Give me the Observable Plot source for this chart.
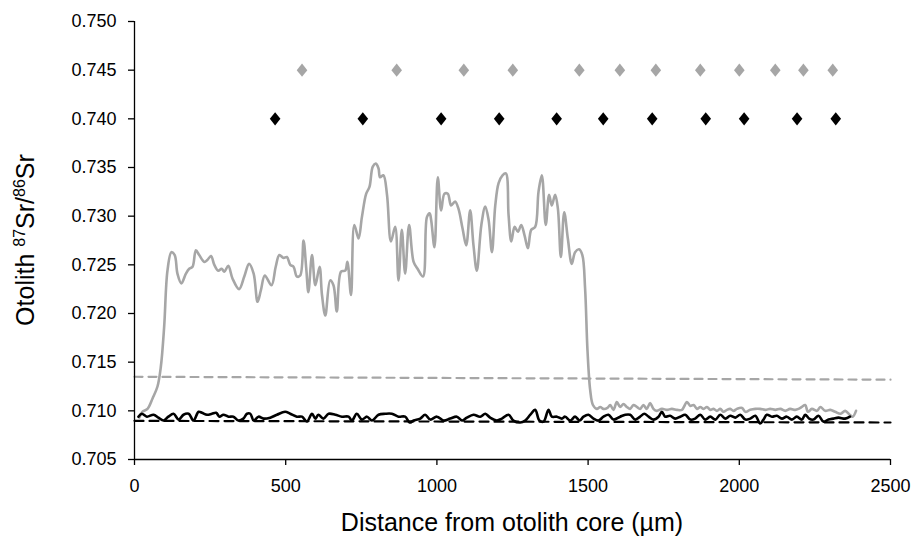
<!DOCTYPE html>
<html><head><meta charset="utf-8">
<script src="https://cdn.jsdelivr.net/npm/d3@7"></script>
<script src="https://cdn.jsdelivr.net/npm/@observablehq/plot@0.6"></script>
<style>body{margin:0;background:#fff;} #chart svg{display:block;}</style>
</head><body><div id="chart"></div>
<script>
// Gray (otolith) Sr profile
const grayX = [16,26,43,60,76,87,98,109,122,133,142,155,170,181,192,203,214,231,241,253,264,277,288,297,310,324,346,363,379,394,407,418,431,453,467,479,493,504,515,526,537,548,559,568,575,587,598,612,620,631,647,658,669,683,697,704,716,727,741,752,766,777,788,798,807,812,823,835,848,862,873,884,895,908,923,936,954,967,976,981,992,1003,1014,1025,1036,1047,1060,1071,1085,1097,1110,1121,1132,1147,1160,1171,1182,1193,1204,1217,1228,1237,1246,1257,1268,1279,1290,1301,1312,1325,1336,1347,1360,1371,1380,1391,1400,1410,1421,1433,1446,1457,1470,1481,1490,1498,1507,1516,1529,1540,1551,1564,1573,1584,1595,1606,1617,1628,1639,1650,1661,1672,1683,1694,1705,1716,1727,1744,1761,1777,1794,1810,1827,1838,1849,1860,1871,1882,1893,1904,1915,1926,1937,1948,1959,1970,1981,1992,2009,2020,2036,2053,2069,2086,2102,2119,2136,2152,2168,2185,2196,2207,2218,2227,2240,2257,2268,2284,2301,2317,2335,2350,2365,2375,2386];
const grayY = [0.7093,0.7099,0.7102,0.7113,0.7125,0.7145,0.7186,0.7244,0.7263,0.7260,0.7241,0.7231,0.7241,0.7246,0.7248,0.7265,0.7260,0.7253,0.7255,0.7259,0.7250,0.7244,0.7246,0.7243,0.7249,0.7236,0.7225,0.7238,0.7251,0.7241,0.7212,0.7224,0.7239,0.7229,0.7248,0.7260,0.7257,0.7258,0.7250,0.7248,0.7238,0.7239,0.7275,0.7246,0.7222,0.7260,0.7229,0.7248,0.7219,0.7198,0.7234,0.7229,0.7202,0.7243,0.7244,0.7253,0.7219,0.7291,0.7277,0.7299,0.7323,0.7330,0.7351,0.7354,0.7349,0.7340,0.7342,0.7322,0.7274,0.7289,0.7234,0.7286,0.7241,0.7291,0.7253,0.7246,0.7238,0.7299,0.7303,0.7296,0.7268,0.7340,0.7306,0.7323,0.7323,0.7311,0.7315,0.7308,0.7287,0.7270,0.7306,0.7270,0.7244,0.7291,0.7310,0.7296,0.7263,0.7311,0.7334,0.7342,0.7344,0.7301,0.7274,0.7289,0.7284,0.7291,0.7280,0.7267,0.7286,0.7289,0.7325,0.7342,0.7291,0.7322,0.7311,0.7322,0.7308,0.7258,0.7304,0.7277,0.7251,0.7263,0.7266,0.7260,0.7226,0.7162,0.7121,0.7106,0.7102,0.7104,0.7102,0.7103,0.7106,0.7101,0.7109,0.7104,0.7107,0.7104,0.7102,0.7106,0.7104,0.7102,0.7106,0.7102,0.7108,0.7102,0.7100,0.7102,0.7101,0.7102,0.7101,0.7101,0.7109,0.7105,0.7106,0.7102,0.7104,0.7102,0.7104,0.7101,0.7102,0.7100,0.7102,0.7099,0.7101,0.7102,0.7100,0.7102,0.7103,0.7099,0.7101,0.7102,0.7102,0.7101,0.7102,0.7101,0.7102,0.7100,0.7102,0.7101,0.7102,0.7104,0.7106,0.7099,0.7102,0.7100,0.7104,0.7100,0.7101,0.7099,0.7097,0.7100,0.7096,0.7094,0.7100];

// Black Sr profile
const blackX = [13,24,41,63,79,96,112,129,146,162,179,195,212,223,240,256,270,281,294,311,327,344,360,372,383,394,410,427,449,471,498,515,537,554,570,587,598,608,625,642,664,686,708,719,735,752,769,785,807,829,851,873,895,910,923,945,961,978,1000,1022,1044,1066,1083,1099,1121,1143,1160,1176,1198,1215,1237,1253,1275,1292,1309,1325,1339,1353,1369,1380,1397,1413,1424,1441,1457,1472,1485,1501,1518,1534,1551,1567,1584,1606,1623,1639,1656,1672,1686,1700,1716,1733,1744,1755,1771,1788,1805,1821,1838,1854,1871,1887,1904,1921,1937,1954,1970,1987,2003,2020,2036,2053,2069,2080,2091,2108,2124,2141,2157,2174,2190,2207,2218,2231,2245,2262,2278,2295,2311,2328,2350,2366];
const blackY = [0.7094,0.7097,0.7094,0.7096,0.7093,0.7090,0.7094,0.7097,0.7091,0.7096,0.7097,0.7090,0.7099,0.7098,0.7096,0.7097,0.7098,0.7094,0.7096,0.7094,0.7094,0.7090,0.7092,0.7097,0.7097,0.7090,0.7094,0.7092,0.7093,0.7096,0.7099,0.7097,0.7094,0.7094,0.7089,0.7097,0.7092,0.7096,0.7092,0.7097,0.7096,0.7094,0.7094,0.7090,0.7097,0.7091,0.7094,0.7090,0.7096,0.7097,0.7097,0.7094,0.7094,0.7088,0.7090,0.7092,0.7096,0.7091,0.7094,0.7090,0.7092,0.7094,0.7090,0.7093,0.7096,0.7094,0.7097,0.7093,0.7090,0.7092,0.7096,0.7090,0.7088,0.7090,0.7096,0.7101,0.7090,0.7089,0.7101,0.7094,0.7094,0.7092,0.7094,0.7090,0.7094,0.7090,0.7094,0.7096,0.7092,0.7090,0.7094,0.7096,0.7091,0.7094,0.7096,0.7096,0.7091,0.7094,0.7097,0.7094,0.7091,0.7094,0.7099,0.7094,0.7095,0.7092,0.7094,0.7096,0.7091,0.7092,0.7096,0.7091,0.7094,0.7091,0.7096,0.7092,0.7095,0.7093,0.7096,0.7091,0.7092,0.7095,0.7087,0.7091,0.7096,0.7094,0.7095,0.7092,0.7094,0.7091,0.7094,0.7091,0.7096,0.7092,0.7091,0.7095,0.7089,0.7091,0.7092,0.7093,0.7092,0.7094];

// Reference (dashed) lines
const refX = [0, 2500];
const grayRefY = [0.7135, 0.7132];
const blackRefY = [0.70897, 0.70880];

// Diamond markers
const grayDiamondX = [554,867,1089,1251,1471,1605,1724,1871,2000,2119,2212,2309];
const grayDiamondY = 0.745;
const blackDiamondX = [465,755,1014,1206,1396,1550,1712,1889,2016,2191,2319];
const blackDiamondY = 0.740;

// Axes
const xTicks = [0,500,1000,1500,2000,2500];
const yTicks = [0.705,0.710,0.715,0.720,0.725,0.730,0.735,0.740,0.745,0.750];
const xTitle = "Distance from otolith core (µm)";

const W = 918, H = 543, ML = 134, MR = 28, MT = 21, MB = 84;
const FONT = "'Liberation Sans', Arial, sans-serif";
const GRAY = "#a6a6a6";

const diamond = {
  draw(ctx, size) {
    const h = Math.sqrt(size) * 0.85, w = h * 0.8;
    ctx.moveTo(0, -h); ctx.lineTo(w, 0); ctx.lineTo(0, h); ctx.lineTo(-w, 0); ctx.closePath();
  }
};

const chart = Plot.plot({
  width: W, height: H,
  marginLeft: ML, marginRight: MR, marginTop: MT, marginBottom: MB,
  style: {fontFamily: FONT, color: "#000", background: "#fff"},
  x: {domain: [0, 2500]},
  y: {domain: [0.705, 0.750]},
  marks: [
    Plot.axisY({ticks: yTicks, tickFormat: d3.format(".3f"), tickSize: 6, tickPadding: 12, fontSize: 18, label: null, stroke: "#000", strokeWidth: 1.3}),
    Plot.axisX({ticks: xTicks, tickFormat: d3.format("d"), tickSize: 6, tickPadding: 14, fontSize: 18, label: null, stroke: "#000", strokeWidth: 1.3}),
    Plot.line(refX, {x: refX, y: grayRefY, stroke: GRAY, strokeWidth: 2.2, strokeDasharray: "8,6"}),
    Plot.line(refX, {x: refX, y: blackRefY, stroke: "#000", strokeWidth: 2.2, strokeDasharray: "9,6"}),
    Plot.line(grayX, {x: grayX, y: grayY, stroke: GRAY, strokeWidth: 2.6, curve: "catmull-rom"}),
    Plot.line(blackX, {x: blackX, y: blackY, stroke: "#000", strokeWidth: 2.6, curve: "catmull-rom"}),
    Plot.dot(grayDiamondX, {x: grayDiamondX, y: () => grayDiamondY, symbol: diamond, r: 4.4, fill: GRAY, stroke: "none"}),
    Plot.dot(blackDiamondX, {x: blackDiamondX, y: () => blackDiamondY, symbol: diamond, r: 4.4, fill: "#000", stroke: "none"}),
    Plot.ruleX([0], {y1: 0.705, y2: 0.750, stroke: "#000", strokeWidth: 1.3}),
    Plot.ruleY([0.705], {x1: 0, x2: 2500, stroke: "#000", strokeWidth: 1.3})
  ]
});

const svg = d3.select(chart);
svg.append("text")
  .attr("x", ML + (W - ML - MR) / 2).attr("y", 531)
  .attr("text-anchor", "middle").attr("font-family", FONT).attr("font-size", 25).attr("fill", "#000")
  .text(xTitle);
const yt = svg.append("text")
  .attr("transform", `translate(34,${MT + (H - MT - MB) / 2}) rotate(-90)`)
  .attr("text-anchor", "middle").attr("font-family", FONT).attr("font-size", 25).attr("fill", "#000");
yt.append("tspan").text("Otolith ");
yt.append("tspan").attr("font-size", 16).attr("dy", -9).text("87");
yt.append("tspan").attr("dy", 9).text("Sr/");
yt.append("tspan").attr("font-size", 16).attr("dy", -9).text("86");
yt.append("tspan").attr("dy", 9).text("Sr");

document.getElementById("chart").appendChild(chart);
</script>
</body></html>
